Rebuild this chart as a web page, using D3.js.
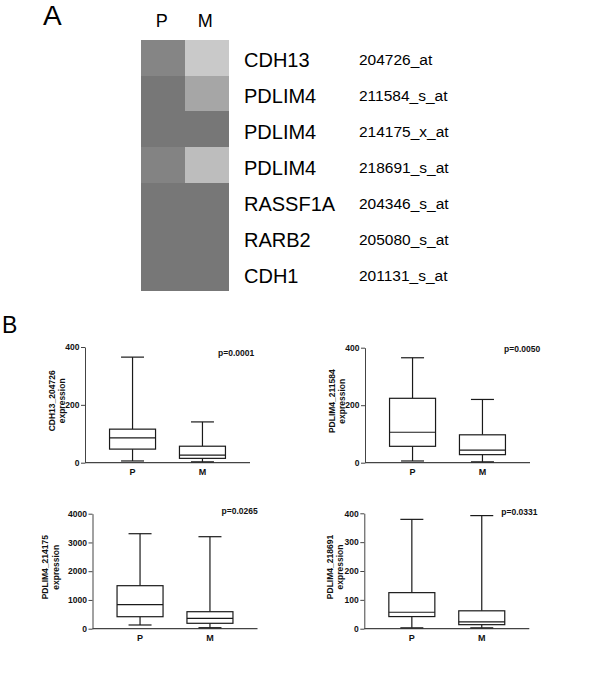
<!DOCTYPE html>
<html>
<head>
<meta charset="utf-8">
<script src="https://cdn.jsdelivr.net/npm/d3@7"></script>
<style>
  html, body { margin: 0; padding: 0; background: #fff; }
  svg { display: block; }
  text { font-family: "Liberation Sans", Arial, sans-serif; }
</style>
</head>
<body>
<svg id="chart" width="600" height="674"></svg>
<script>
// ---------- Data ----------
const genes = ["CDH13", "PDLIM4", "PDLIM4", "PDLIM4", "RASSF1A", "RARB2", "CDH1"];
const probes = ["204726_at", "211584_s_at", "214175_x_at", "218691_s_at", "204346_s_at", "205080_s_at", "201131_s_at"];
const heatGroups = ["P", "M"];
const heatP = [0.15, 0, 0, 0.13, 0, 0, 0];
const heatM = [0.86, 0.49, 0, 0.74, 0, 0, 0];

const boxGroups = ["P", "M"];
const panelTitles = ["CDH13_204726", "PDLIM4_211584", "PDLIM4_214175", "PDLIM4_218691"];
const yLabelSecond = "expression";
const pValues = ["p=0.0001", "p=0.0050", "p=0.0265", "p=0.0331"];
const yMaxes = [400, 400, 4000, 400];
const yTicks = [[0, 200, 400], [0, 200, 400], [0, 1000, 2000, 3000, 4000], [0, 100, 200, 300, 400]];
// [min, q1, median, q3, max]
const statsP = [[6, 47, 86, 116, 365], [6, 57, 106, 224, 365], [129, 417, 835, 1496, 3304], [3, 42, 57, 125, 379]];
const statsM = [[3, 15, 26, 57, 141], [3, 28, 44, 97, 220], [35, 188, 360, 591, 3200], [3, 14, 24, 62, 392]];

// ---------- Layout ----------
const svg = d3.select("#chart");

// Panel A heatmap
svg.append("text").attr("x", 43).attr("y", 25).attr("font-size", 28).text("A");

const xHeat = d3.scaleBand().domain(heatGroups).range([141, 228]);
const yHeat = d3.scaleBand().domain(d3.range(genes.length)).range([40, 290]);
const yLab = d3.scaleBand().domain(d3.range(genes.length)).range([41.5, 294]);
const grey = d3.scaleLinear().domain([0, 1]).range(["#777777", "#d6d6d6"]);

const cells = [];
genes.forEach((g, i) => {
  cells.push({ col: "P", row: i, v: heatP[i] });
  cells.push({ col: "M", row: i, v: heatM[i] });
});
svg.append("g").attr("shape-rendering", "crispEdges").selectAll("rect").data(cells).join("rect")
  .attr("x", d => xHeat(d.col))
  .attr("y", d => yHeat(d.row))
  .attr("width", xHeat.bandwidth() + 1)
  .attr("height", yHeat.bandwidth() + 1)
  .attr("fill", d => grey(d.v));

svg.append("g").selectAll("text").data(heatGroups).join("text")
  .attr("x", d => xHeat(d) + xHeat.bandwidth() / 2 - 1)
  .attr("y", 27)
  .attr("text-anchor", "middle")
  .attr("font-size", 18)
  .text(d => d);

svg.append("g").selectAll("text").data(genes).join("text")
  .attr("x", 244)
  .attr("y", (d, i) => yLab(i) + yLab.bandwidth() / 2 + 7.3)
  .attr("font-size", 20)
  .text(d => d);

svg.append("g").selectAll("text").data(probes).join("text")
  .attr("x", 359)
  .attr("y", (d, i) => yLab(i) + yLab.bandwidth() / 2 + 5.5)
  .attr("font-size", 15.5)
  .text(d => d);

// Panel B box plots
svg.append("text").attr("x", 2).attr("y", 333).attr("font-size", 23).text("B");

const panels = [
  { ax: 85, top: 347, bottom: 462.7, lab: 33, px: 133, py: 355.5 },
  { ax: 365, top: 347.7, bottom: 462.7, lab: 33, px: 139, py: 352 },
  { ax: 92.5, top: 513.7, bottom: 628.7, lab: 47, px: 129, py: 514 },
  { ax: 364.3, top: 513.3, bottom: 628.7, lab: 34.5, px: 137, py: 514.5 }
];

const axisColor = "#444";
const boxColor = "#1a1a1a";
const smallFont = 8.5;

panels.forEach((p, k) => {
  const g = svg.append("g");
  const y = d3.scaleLinear().domain([0, yMaxes[k]]).range([p.bottom, p.top]);
  const x = d3.scalePoint().domain(boxGroups).range([p.ax, p.ax + 165]).padding(0.68);

  // y axis
  const yAxis = g.append("g")
    .attr("transform", `translate(${p.ax},0)`)
    .call(d3.axisLeft(y).tickValues(yTicks[k]).tickFormat(d3.format("d"))
      .tickSize(4).tickPadding(1.5).tickSizeOuter(0));
  yAxis.select(".domain").attr("stroke", axisColor).attr("stroke-width", 1);
  yAxis.selectAll(".tick line").attr("stroke", axisColor);
  yAxis.selectAll(".tick text")
    .attr("font-family", "'Liberation Sans', Arial, sans-serif")
    .attr("font-size", smallFont).attr("font-weight", "bold").attr("fill", "#111");

  // x axis line
  g.append("line")
    .attr("x1", p.ax).attr("x2", p.ax + 165)
    .attr("y1", p.bottom).attr("y2", p.bottom)
    .attr("stroke", axisColor).attr("stroke-width", 1.2);

  // x labels
  g.selectAll("text.xl").data(boxGroups).join("text")
    .attr("class", "xl")
    .attr("x", d => x(d))
    .attr("y", p.bottom + 12.5)
    .attr("text-anchor", "middle")
    .attr("font-size", 9).attr("font-weight", "bold").attr("fill", "#111")
    .text(d => d);

  // y label (two lines, rotated)
  const midY = (p.top + p.bottom) / 2 - 4;
  const yl = g.append("text")
    .attr("transform", `translate(${p.ax - p.lab},${midY}) rotate(-90)`)
    .attr("text-anchor", "middle")
    .attr("font-size", smallFont).attr("font-weight", "bold").attr("fill", "#111");
  yl.append("tspan").attr("x", 0).attr("dy", "0.35em").text(panelTitles[k]);
  yl.append("tspan").attr("x", 0).attr("dy", 10.5).text(yLabelSecond);

  // p-value
  g.append("text")
    .attr("x", p.ax + p.px).attr("y", p.py)
    .attr("font-size", smallFont).attr("font-weight", "bold").attr("fill", "#111")
    .text(pValues[k]);

  // boxes
  const bw = 46;
  const data = [{ grp: "P", s: statsP[k] }, { grp: "M", s: statsM[k] }];
  data.forEach(d => {
    const cx = x(d.grp);
    const [mn, q1, md, q3, mx] = d.s;
    const bg = g.append("g").attr("stroke", boxColor).attr("stroke-width", 1.2).attr("fill", "none");
    bg.append("line").attr("x1", cx).attr("x2", cx).attr("y1", y(mx)).attr("y2", y(q3));
    bg.append("line").attr("x1", cx).attr("x2", cx).attr("y1", y(q1)).attr("y2", y(mn));
    bg.append("line").attr("x1", cx - bw / 4).attr("x2", cx + bw / 4).attr("y1", y(mx)).attr("y2", y(mx));
    bg.append("line").attr("x1", cx - bw / 4).attr("x2", cx + bw / 4).attr("y1", y(mn)).attr("y2", y(mn));
    bg.append("rect").attr("x", cx - bw / 2).attr("y", y(q3))
      .attr("width", bw).attr("height", y(q1) - y(q3)).attr("fill", "#fff");
    bg.append("line").attr("x1", cx - bw / 2).attr("x2", cx + bw / 2).attr("y1", y(md)).attr("y2", y(md));
  });
});
</script>
</body>
</html>
